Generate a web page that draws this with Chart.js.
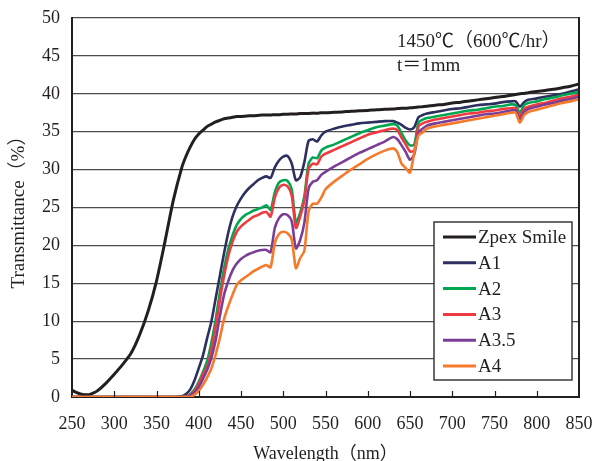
<!DOCTYPE html>
<html>
<head>
<meta charset="utf-8">
<script src="https://cdn.jsdelivr.net/npm/chart.js@4"></script>
<style>
  html, body { margin: 0; padding: 0; background: #fff; }
  #wrap { width: 592px; height: 461px; }
</style>
</head>
<body>
<div id="wrap"><canvas id="chart"></canvas></div>
<script>
const wavelengths = [
  250, 255, 260, 265, 270, 275, 280, 290, 300, 310,
  320, 330, 340, 350, 360, 370, 380, 385, 390, 395,
  400, 405, 410, 415, 420, 425, 430, 435, 440, 445,
  450, 455, 460, 465, 470, 475, 480, 485, 490, 495,
  500, 505, 510, 515, 520, 525, 530, 535, 540, 545,
  550, 560, 570, 580, 590, 600, 610, 620, 630, 635,
  640, 645, 650, 655, 660, 665, 670, 680, 690, 700,
  710, 720, 730, 740, 750, 760, 770, 775, 780, 785,
  790, 800, 810, 820, 830, 840, 850
];

const zpexSmile = [
  0.9, 0.6, 0.4, 0.3, 0.3, 0.5, 0.8, 1.8, 3.0, 4.3,
  5.8, 8.2, 11.3, 15.3, 20.5, 26.0, 30.3, 31.8, 33.0, 34.0,
  34.7, 35.2, 35.7, 36.0, 36.3, 36.5, 36.7, 36.8, 36.9, 37.0,
  37.0, 37.05, 37.1, 37.1, 37.15, 37.2, 37.2, 37.2, 37.25, 37.25,
  37.3, 37.3, 37.35, 37.35, 37.4, 37.4, 37.4, 37.45, 37.45, 37.5,
  37.5, 37.55, 37.6, 37.7, 37.75, 37.8, 37.9, 37.95, 38.0, 38.05,
  38.1, 38.1, 38.15, 38.2, 38.25, 38.3, 38.35, 38.5, 38.6, 38.8,
  38.9, 39.05, 39.2, 39.35, 39.5, 39.65, 39.8, 39.9, 40.0, 40.05,
  40.15, 40.3, 40.45, 40.6, 40.8, 41.0, 41.3
];

const a1 = [
  0, 0, 0, 0, 0, 0, 0, 0, 0, 0,
  0, 0, 0, 0, 0, 0, 0.1, 0.4, 1.0, 2.2,
  3.8, 5.5, 7.8, 10.0, 13.0, 16.0, 19.0, 21.7, 23.8, 25.2,
  26.2, 27.0, 27.6, 28.1, 28.6, 28.9, 29.1, 28.9, 30.3, 31.2,
  31.7, 31.8, 30.8, 28.6, 29.0, 31.0, 33.8, 34.0, 33.7, 34.5,
  35.0, 35.4, 35.7, 35.9, 36.1, 36.2, 36.3, 36.4, 36.4, 36.2,
  35.9, 35.5, 35.3, 35.6, 36.9, 37.2, 37.4, 37.6, 37.8, 38.0,
  38.1, 38.3, 38.5, 38.6, 38.7, 38.9, 39.0, 39.0, 38.3, 38.9,
  39.2, 39.4, 39.6, 39.8, 40.0, 40.3, 40.6
];

const a2 = [
  0, 0, 0, 0, 0, 0, 0, 0, 0, 0,
  0, 0, 0, 0, 0, 0, 0, 0.1, 0.4, 1.0,
  2.0, 3.3, 4.8, 7.2, 10.2, 13.8, 17.0, 19.5, 21.3, 22.7,
  23.5, 24.0, 24.3, 24.6, 24.8, 25.0, 25.3, 24.7, 27.0, 28.3,
  28.6, 28.5, 27.4, 23.0, 24.3, 26.5, 30.8, 31.6, 31.5, 32.5,
  32.9, 33.3, 33.8, 34.3, 34.8, 35.2, 35.6, 35.8, 36.0, 35.8,
  34.8, 33.8, 33.2, 33.3, 36.2, 36.6, 36.8, 37.0, 37.2, 37.4,
  37.6, 37.8, 37.9, 38.1, 38.3, 38.4, 38.6, 38.5, 37.5, 38.5,
  38.8, 39.0, 39.3, 39.5, 39.8, 40.0, 40.3
];

const a3 = [
  0, 0, 0, 0, 0, 0, 0, 0, 0, 0,
  0, 0, 0, 0, 0, 0, 0, 0.05, 0.3, 0.8,
  1.7, 3.0, 4.0, 6.2, 9.3, 12.8, 16.0, 18.6, 20.5, 21.8,
  22.5, 23.0, 23.4, 23.8, 24.0, 24.3, 24.4, 23.8, 26.3, 27.6,
  28.0, 27.8, 26.6, 22.3, 23.8, 26.0, 30.1, 30.8, 30.7, 31.7,
  32.1, 32.6, 33.1, 33.6, 34.1, 34.6, 34.9, 35.2, 35.4, 35.2,
  34.2, 33.3, 32.4, 32.5, 35.7, 36.1, 36.3, 36.6, 36.8, 37.0,
  37.2, 37.4, 37.5, 37.7, 37.8, 38.0, 38.1, 38.1, 37.0, 38.0,
  38.3, 38.6, 38.8, 39.1, 39.4, 39.6, 39.9
];

const a35 = [
  0, 0, 0, 0, 0, 0, 0, 0, 0, 0,
  0, 0, 0, 0, 0, 0, 0, 0, 0.2, 0.6,
  1.3, 2.4, 3.6, 5.2, 7.5, 10.7, 13.5, 15.3, 16.7, 17.6,
  18.2, 18.6, 18.9, 19.1, 19.3, 19.4, 19.4, 19.1, 22.3, 23.6,
  24.1, 24.0, 23.2, 19.6, 20.7, 23.0, 27.5, 28.4, 28.6, 29.3,
  29.7, 30.4, 31.0, 31.6, 32.2, 32.7, 33.2, 33.7, 34.3, 34.0,
  33.2, 32.3, 31.3, 32.0, 34.9, 35.4, 35.8, 36.1, 36.3, 36.5,
  36.7, 36.9, 37.1, 37.3, 37.4, 37.6, 37.8, 37.8, 36.6, 37.6,
  38.0, 38.3, 38.6, 38.8, 39.1, 39.3, 39.6
];

const a4 = [
  0, 0, 0, 0, 0, 0, 0, 0, 0, 0,
  0, 0, 0, 0, 0, 0, 0, 0, 0, 0.3,
  0.8, 1.6, 2.6, 3.8, 5.6, 7.8, 10.3, 12.0, 13.5, 14.8,
  15.4, 15.8, 16.2, 16.6, 16.9, 17.2, 17.4, 17.1, 20.3, 21.5,
  21.8, 21.6, 20.8, 17.0, 18.3, 19.3, 24.5, 25.5, 25.5, 26.3,
  27.4, 28.4, 29.2, 30.0, 30.7, 31.4, 32.0, 32.5, 32.8, 32.3,
  30.8, 30.2, 29.6, 32.2, 34.5, 34.9, 35.4, 35.7, 35.9, 36.1,
  36.3, 36.5, 36.7, 36.9, 37.1, 37.3, 37.5, 37.5, 36.2, 37.2,
  37.6, 37.9, 38.2, 38.5, 38.8, 39.0, 39.3
];

const seriesNames = ['Zpex Smile', 'A1', 'A2', 'A3', 'A3.5', 'A4'];
const seriesValues = [zpexSmile, a1, a2, a3, a35, a4];
const seriesColors = ['#231f20', '#2d305e', '#00a650', '#ef3b3f', '#7b3e97', '#f57a2c'];

const noteLines = ['1450℃（600℃/hr）', 't＝1mm'];

const serif = "'Liberation Serif', 'Noto Sans CJK JP', serif";

function points(values) {
    return wavelengths.map((w, i) => ({ x: w, y: values[i] }));
}

// frame (right edge), inner x ticks, note text and the boxed legend
const extras = {
    id: 'extras',
    afterDraw(chart) {
        const ctx = chart.ctx;
        const area = chart.chartArea;
        const xs = chart.scales.x;
        ctx.save();

        ctx.strokeStyle = '#231f20';
        ctx.lineWidth = 2;
        ctx.beginPath();
        ctx.moveTo(area.right, area.top - 1);
        ctx.lineTo(area.right, area.bottom + 1);
        ctx.stroke();

        ctx.lineWidth = 1.2;
        for (let w = 300; w < 850; w += 50) {
            const px = Math.round(xs.getPixelForValue(w)) + 0.5;
            ctx.beginPath();
            ctx.moveTo(px, area.bottom);
            ctx.lineTo(px, area.bottom - 6);
            ctx.stroke();
        }

        ctx.fillStyle = '#231f20';
        ctx.font = '19px ' + serif;
        ctx.textBaseline = 'middle';
        ctx.textAlign = 'left';
        ctx.fillText(noteLines[0], 397, 42);
        ctx.fillText(noteLines[1], 397, 66);

        // legend
        const lx = 434, ly = 222, lw = 138, lh = 158;
        ctx.fillStyle = '#fff';
        ctx.fillRect(lx, ly, lw, lh);
        ctx.strokeStyle = '#3a3a3a';
        ctx.lineWidth = 1.5;
        ctx.strokeRect(lx, ly, lw, lh);
        ctx.font = '19px ' + serif;
        seriesNames.forEach((name, i) => {
            const cy = ly + 15 + i * 25.8;
            ctx.strokeStyle = seriesColors[i];
            ctx.lineWidth = 3;
            ctx.beginPath();
            ctx.moveTo(443, cy);
            ctx.lineTo(476, cy);
            ctx.stroke();
            ctx.fillStyle = '#231f20';
            ctx.fillText(name, 478, cy + 1);
        });
        ctx.restore();
    }
};

new Chart(document.getElementById('chart'), {
    type: 'line',
    data: {
        datasets: seriesNames.map((name, i) => ({
            label: name,
            data: points(seriesValues[i]),
            borderColor: seriesColors[i],
            backgroundColor: seriesColors[i],
            borderWidth: i === 0 ? 3 : 2.6,
            pointRadius: 0,
            tension: 0.25,
            fill: false,
            order: seriesNames.length - i
        }))
    },
    options: {
        responsive: true,
        maintainAspectRatio: false,
        animation: false,
        layout: { padding: { top: 18, right: 13, left: 0, bottom: 0 } },
        plugins: {
            legend: { display: false },
            tooltip: { enabled: false }
        },
        scales: {
            x: {
                type: 'linear',
                min: 250,
                max: 850,
                afterFit: s => { s.height = 64; s.paddingLeft = 0; s.paddingRight = 0; },
                ticks: {
                    stepSize: 50,
                    padding: 8,
                    color: '#231f20',
                    font: { family: serif, size: 18 },
                    maxRotation: 0
                },
                grid: { display: false },
                border: { display: true, color: '#231f20', width: 2 },
                title: {
                    display: true,
                    text: 'Wavelength（nm）',
                    color: '#231f20',
                    font: { family: serif, size: 18 },
                    padding: { top: 10, bottom: -4 }
                }
            },
            y: {
                min: 0,
                max: 50,
                afterFit: s => { s.width = 72; s.paddingTop = 0; s.paddingBottom = 0; },
                ticks: {
                    stepSize: 5,
                    padding: 12,
                    color: '#231f20',
                    font: { family: serif, size: 18 }
                },
                grid: { color: '#4d4d4d', lineWidth: 1.3, drawTicks: false },
                border: { display: true, color: '#231f20', width: 2 },
                title: {
                    display: true,
                    text: 'Transmittance（%）',
                    color: '#231f20',
                    font: { family: serif, size: 19 },
                    padding: { top: 8, bottom: 4 }
                }
            }
        }
    },
    plugins: [extras]
});
</script>
</body>
</html>
